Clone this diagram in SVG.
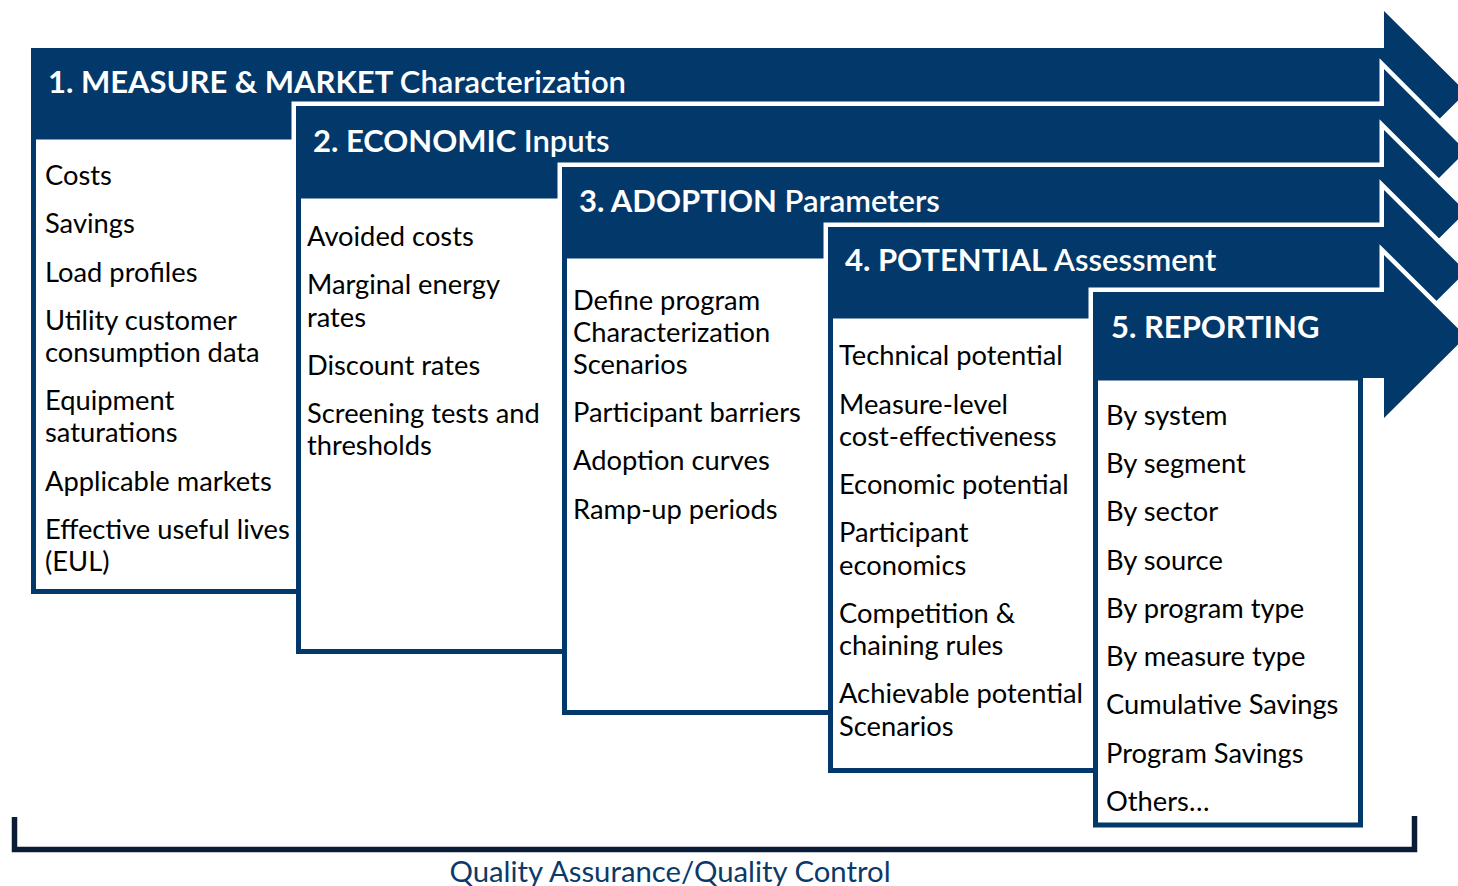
<svg xmlns="http://www.w3.org/2000/svg" width="1458" height="886" viewBox="0 0 1458 886">
<style>
.hdr { fill: #03386a; stroke: #ffffff; stroke-width: 9; paint-order: stroke; stroke-linejoin: miter; stroke-miterlimit: 6; }
.box { fill: #ffffff; stroke: #03386a; stroke-width: 5; }
.h { font-family: Lato, "Liberation Sans", sans-serif; font-size: 31px; font-weight: 700; fill: #ffffff; }
.hl { font-weight: 600; }
.t { font-family: Lato, "Liberation Sans", sans-serif; font-size: 27.3px; fill: #000000; }
.qa { font-family: Lato, "Liberation Sans", sans-serif; font-size: 29.3px; fill: #0b3a6a; }
</style>
<rect width="1458" height="886" fill="#ffffff"/>
<g id="step1">
<path class="hdr" d="M31,48 H1384 V11 L1466,92.5 L1384,174 V137 H31 Z"/>
<rect class="box" x="33.5" y="137" width="265" height="454.5"/>
<text class="h" x="48" y="93">1. MEASURE &amp; MARKET <tspan class="hl">Characterization</tspan></text>
<text class="t" x="45" y="185">Costs</text>
<text class="t" x="45" y="233">Savings</text>
<text class="t" x="45" y="282">Load profiles</text>
<text class="t" x="45" y="330">Utility customer</text>
<text class="t" x="45" y="362">consumption data</text>
<text class="t" x="45" y="410">Equipment</text>
<text class="t" x="45" y="442">saturations</text>
<text class="t" x="45" y="491">Applicable markets</text>
<text class="t" x="45" y="539">Effective useful lives</text>
<text class="t" x="45" y="571">(EUL)</text>
</g>
<g id="step2">
<path class="hdr" d="M296,106 H1384 V69 L1466,151 L1384,233 V196 H296 Z"/>
<rect class="box" x="298.5" y="196" width="266" height="455.5"/>
<text class="h" x="313" y="152">2. ECONOMIC <tspan class="hl">Inputs</tspan></text>
<text class="t" x="307" y="246">Avoided costs</text>
<text class="t" x="307" y="294">Marginal energy</text>
<text class="t" x="307" y="327">rates</text>
<text class="t" x="307" y="375">Discount rates</text>
<text class="t" x="307" y="423">Screening tests and</text>
<text class="t" x="307" y="455">thresholds</text>
</g>
<g id="step3">
<path class="hdr" d="M562,167 H1384 V130 L1466,211.5 L1384,293 V256 H562 Z"/>
<rect class="box" x="564.5" y="256" width="266" height="456.5"/>
<text class="h" x="579" y="212">3. ADOPTION <tspan class="hl">Parameters</tspan></text>
<text class="t" x="573" y="310">Define program</text>
<text class="t" x="573" y="342">Characterization</text>
<text class="t" x="573" y="374">Scenarios</text>
<text class="t" x="573" y="422">Participant barriers</text>
<text class="t" x="573" y="470">Adoption curves</text>
<text class="t" x="573" y="519">Ramp-up periods</text>
</g>
<g id="step4">
<path class="hdr" d="M828,227 H1384 V190 L1466,271.5 L1384,353 V316 H828 Z"/>
<rect class="box" x="830.5" y="316" width="265" height="454.5"/>
<text class="h" x="845" y="271">4. POTENTIAL <tspan class="hl">Assessment</tspan></text>
<text class="t" x="839" y="365">Technical potential</text>
<text class="t" x="839" y="414">Measure-level</text>
<text class="t" x="839" y="446">cost-effectiveness</text>
<text class="t" x="839" y="494">Economic potential</text>
<text class="t" x="839" y="542">Participant</text>
<text class="t" x="839" y="575">economics</text>
<text class="t" x="839" y="623">Competition &amp;</text>
<text class="t" x="839" y="655">chaining rules</text>
<text class="t" x="839" y="703">Achievable potential</text>
<text class="t" x="839" y="736">Scenarios</text>
</g>
<g id="step5">
<path class="hdr" d="M1093,292 H1384 V255 L1466,336.5 L1384,418 V378 H1093 Z"/>
<rect class="box" x="1095.5" y="378" width="265" height="447"/>
<text class="h" x="1111" y="338">5. REPORTING</text>
<text class="t" x="1106" y="425">By system</text>
<text class="t" x="1106" y="473">By segment</text>
<text class="t" x="1106" y="521">By sector</text>
<text class="t" x="1106" y="570">By source</text>
<text class="t" x="1106" y="618">By program type</text>
<text class="t" x="1106" y="666">By measure type</text>
<text class="t" x="1106" y="714">Cumulative Savings</text>
<text class="t" x="1106" y="763">Program Savings</text>
<text class="t" x="1106" y="811">Others…</text>
</g>
<g id="qa-bracket">
<path d="M14.5,817 V849.5 H1414.5 V816" fill="none" stroke="#0b1d36" stroke-width="5.5"/>
<text class="qa" x="670" y="882" text-anchor="middle">Quality Assurance/Quality Control</text>
</g>
</svg>
